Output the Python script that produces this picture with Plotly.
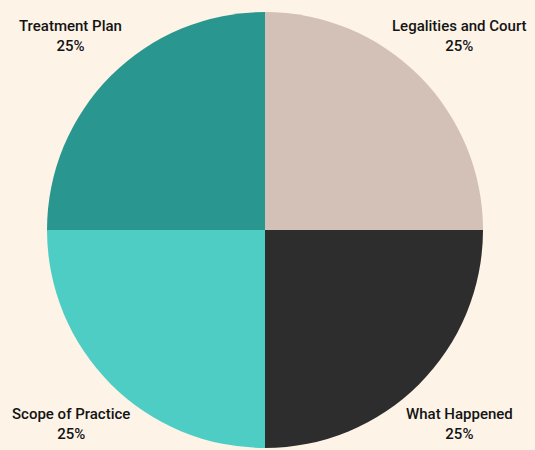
import math
import plotly.graph_objects as go

labels = ["Legalities and Court", "What Happened", "Scope of Practice", "Treatment Plan"]
values = [25, 25, 25, 25]
colors = ["#d3c0b7", "#2d2d2d", "#4ecdc4", "#2a9690"]

W, H = 535, 450
ml, mr, mt, mb = 0, 5, 12, 2
R = (H - mt - mb) / 2
cx = ml + (W - ml - mr) / 2
cy = mt + R
PW, PH = W - ml - mr, H - mt - mb

fig = go.Figure(go.Pie(
    labels=labels,
    values=values,
    sort=False,
    direction="clockwise",
    rotation=0,
    marker=dict(colors=colors, line=dict(width=0)),
    textinfo="none",
    showlegend=False,
    hoverinfo="label+percent",
))

FONT = "Roboto, 'DejaVu Sans', sans-serif"
total = sum(values)
cum = 0
annotations = []
for lab, v in zip(labels, values):
    mid = (cum + v / 2) / total * 2 * math.pi
    cum += v
    dist = R + 57
    px = cx + dist * math.sin(mid)
    py = cy - dist * math.cos(mid)
    pct = round(v / total * 100)
    annotations.append(dict(
        x=(px - ml) / PW, y=1 - (py - mt) / PH, xref="paper", yref="paper",
        text=f"{lab}<br>{pct}%", showarrow=False,
        xanchor="center", yanchor="middle", align="center",
        font=dict(family=FONT, size=15, color="#141414", weight=500),
    ))

fig.update_layout(
    width=W, height=H,
    paper_bgcolor="#fdf3e7",
    plot_bgcolor="#fdf3e7",
    margin=dict(l=ml, r=mr, t=mt, b=mb),
    annotations=annotations,
)

fig.write_html("out.html", config={"displayModeBar": False},
               post_script="document.body.style.margin='0';")
